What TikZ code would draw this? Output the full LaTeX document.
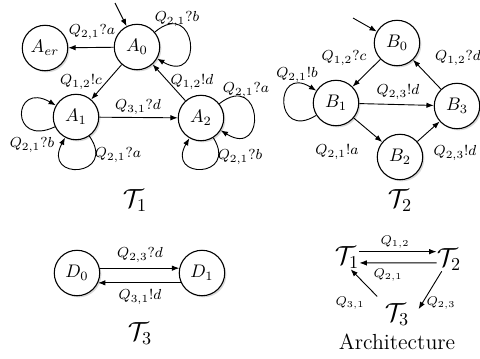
\documentclass[tikz,border=0pt]{standalone}
\usetikzlibrary{arrows.meta,shadows}
\begin{document}
\begin{tikzpicture}[x=0.55pt,y=0.55pt,
  st/.style={circle,draw,line width=0.6pt,fill=white,minimum size=25pt,inner sep=0pt,
    drop shadow={shadow xshift=0.9pt,shadow yshift=-0.9pt,opacity=0.3}},
  edge/.style={-{Latex[length=4pt,width=3pt]},line width=0.5pt},
  lab/.style={font=\footnotesize,inner sep=1pt},
  alab/.style={font=\scriptsize,inner sep=1pt},
  title/.style={font=\Large,inner sep=0pt}]
\useasboundingbox (0,0) rectangle (480,-358);
% T1
\node[st] (A0) at (137,-47) {$A_0$};
\node[st] (Aer) at (45,-48) {$A_{er}$};
\node[st] (A1) at (76,-117) {$A_1$};
\node[st] (A2) at (201,-118) {$A_2$};
\coordinate (a0in) at (115,-3);
\draw[edge] (a0in) -- (A0);
\draw[edge] (A0) -- (Aer);
\node[lab] (lAer) at (92,-32) {$Q_{2,1}?a$};
\draw[edge] (A0) -- (A1);
\node[lab] (lA01) at (81,-82) {$Q_{1,2}!c$};
\draw[edge] (A2) -- (A0);
\node[lab] (lA20) at (192,-82) {$Q_{1,2}!d$};
\draw[edge] (A1) -- (A2);
\node[lab] (lA12) at (138,-107) {$Q_{3,1}?d$};
\draw[edge] (A0.40) .. controls +(40:55) and +(-30:55) .. (A0.-30);
\node[lab] (lA00) at (177,-19) {$Q_{2,1}?b$};
\draw[edge] (A1.205) .. controls +(205:50) and +(150:50) .. (A1.150);
\node[lab] (lA11a) at (32,-145) {$Q_{2,1}?b$};
\draw[edge] (A1.-55) .. controls +(-55:50) and +(-118:50) .. (A1.-118);
\node[lab] (lA11b) at (118,-155) {$Q_{2,1}?a$};
\draw[edge] (A2.38) .. controls +(38:55) and +(-32:55) .. (A2.-32);
\node[lab] (lA22a) at (246,-90) {$Q_{2,1}?a$};
\draw[edge] (A2.-58) .. controls +(-58:48) and +(-120:48) .. (A2.-120);
\node[lab] (lA22b) at (240,-157) {$Q_{2,1}?b$};
\node[title] (T1) at (135,-201) {$\mathcal{T}_1$};
% T2
\node[st] (B0) at (397,-43) {$B_0$};
\node[st] (B1) at (336,-103) {$B_1$};
\node[st] (B2) at (400,-157) {$B_2$};
\node[st] (B3) at (457,-106) {$B_3$};
\coordinate (b0in) at (353,-18);
\draw[edge] (b0in) -- (B0);
\draw[edge] (B0) -- (B1);
\node[lab] (lB01) at (344,-58) {$Q_{1,2}?c$};
\draw[edge] (B3) -- (B0);
\node[lab] (lB30) at (458,-58) {$Q_{1,2}?d$};
\draw[edge] (B1) -- (B3);
\node[lab] (lB13) at (398,-92) {$Q_{2,3}!d$};
\draw[edge] (B1) -- (B2);
\node[lab] (lB12) at (337,-152) {$Q_{2,1}!a$};
\draw[edge] (B2) -- (B3);
\node[lab] (lB23) at (455,-153) {$Q_{2,3}!d$};
\draw[edge] (B1.212) .. controls +(212:50) and +(148:50) .. (B1.148);
\node[lab] (lB11) at (297,-75) {$Q_{2,1}!b$};
\node[title] (T2) at (400,-201) {$\mathcal{T}_2$};
% T3
\node[st] (D0) at (77,-273) {$D_0$};
\node[st] (D1) at (202,-273) {$D_1$};
\draw[edge] (D0.12) -- (D1.168);
\node[lab] (lD01) at (140,-255) {$Q_{2,3}?d$};
\draw[edge] (D1.205) -- (D0.-25);
\node[lab] (lD10) at (140,-297) {$Q_{3,1}!d$};
\node[title] (T3) at (140,-334) {$\mathcal{T}_3$};
% Architecture
\node[title] (at1) at (347,-258) {$\mathcal{T}_1$};
\node[title] (at2) at (449,-260) {$\mathcal{T}_2$};
\node[title] (at3) at (397,-315) {$\mathcal{T}_3$};
\draw[edge] ([yshift=3.5pt]at1.east) -- ([yshift=4.6pt]at2.west);
\node[alab] (l12) at (395,-242) {$Q_{1,2}$};
\draw[edge] ([yshift=-1.6pt]at2.west) -- ([yshift=-2.7pt]at1.east);
\node[alab] (l21) at (388,-275) {$Q_{2,1}$};
\draw[edge] ([xshift=-4pt,yshift=4pt]at3.north west) -- ([xshift=2pt]at1.south);
\node[alab] (l31) at (350,-303) {$Q_{3,1}$};
\draw[edge] ([xshift=-4pt]at2.south) -- ([xshift=5pt,yshift=-3pt]at3.north east);
\node[alab] (l23) at (441,-303) {$Q_{2,3}$};
\node[font=\large,inner sep=0pt] (arch) at (397,-342) {Architecture};
\end{tikzpicture}
\end{document}
